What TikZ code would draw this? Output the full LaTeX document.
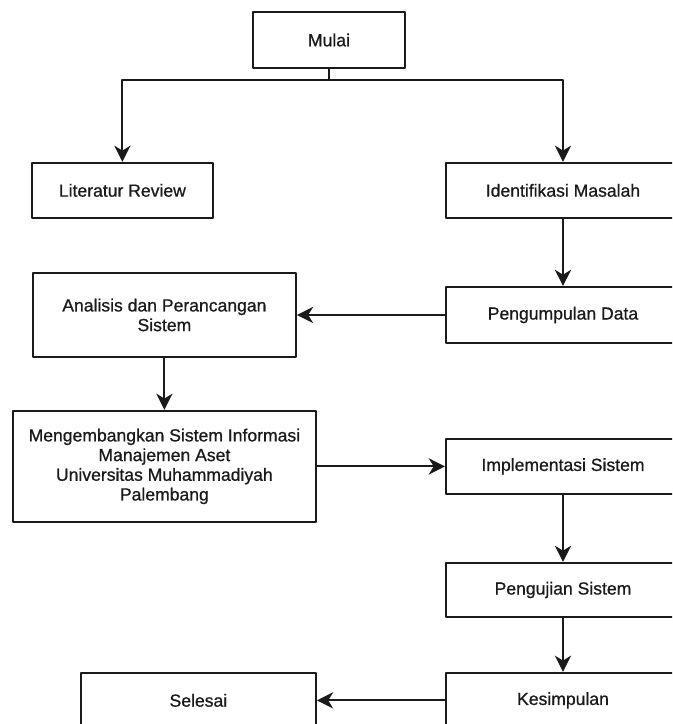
\documentclass[tikz,border=0pt]{standalone}
\usepackage{fontspec}
\setmainfont[FakeBold=0.8]{Liberation Sans}
\usetikzlibrary{arrows.meta}
\definecolor{ink}{HTML}{1A1A1A}
\tikzset{fig/.style={line join=round,>={Stealth[length=11.5pt,width=11.5pt,inset=3.5pt]}},
  box/.style={draw=ink,line width=1.5pt,inner sep=0pt,align=center,text=ink,font=\fontsize{12.5}{14}\selectfont},
  flow/.style={ink,line width=1.5pt,->}}

\begin{document}
\begin{tikzpicture}[fig]
  \useasboundingbox(0,0)rectangle(16.8,18.1);
  \clip(0,0)rectangle(16.8,18.1);
  \node[box,minimum width=3.8cm,minimum height=1.4cm](mulai)at(8.225,17.1){Mulai};
  \node[box,minimum width=4.525cm,minimum height=1.375cm](litrev)at(3.06,13.34){Literatur Review};
  \node[box,minimum width=5.85cm,minimum height=1.375cm](ident)at(14.075,13.34){Identifikasi Masalah};
  \node[box,minimum width=5.85cm,minimum height=1.4cm](kumpul)at(14.075,10.225){Pengumpulan Data};
  \node[box,minimum width=6.575cm,minimum height=2.1cm](analisis)at(4.11,10.225){Analisis dan Perancangan\\Sistem};
  \node[box,minimum width=7.575cm,minimum height=2.775cm](kembang)at(4.11,6.44){Mengembangkan Sistem Informasi\\Manajemen Aset\\Universitas Muhammadiyah\\Palembang};
  \node[box,minimum width=5.85cm,minimum height=1.375cm](impl)at(14.075,6.44){Implementasi Sistem};
  \node[box,minimum width=5.85cm,minimum height=1.35cm](uji)at(14.075,3.35){Pengujian Sistem};
  \node[box,minimum width=5.85cm,minimum height=1.375cm](simpul)at(14.075,0.59){Kesimpulan};
  \node[box,minimum width=5.875cm,minimum height=1.375cm](selesai)at(4.96,0.59){Selesai};
  \coordinate(split)at(8.225,16.1);
  \draw[ink,line width=1.5pt](mulai.south)--(split);
  \draw[flow](split)-|(litrev.north);
  \draw[flow](split)-|(ident.north);
  \draw[flow](ident)--(kumpul);
  \draw[flow](kumpul)--(analisis);
  \draw[flow](analisis)--(kembang);
  \draw[flow](kembang)--(impl);
  \draw[flow](impl)--(uji);
  \draw[flow](uji)--(simpul);
  \draw[flow](simpul)--(selesai);
\end{tikzpicture}
\end{document}
